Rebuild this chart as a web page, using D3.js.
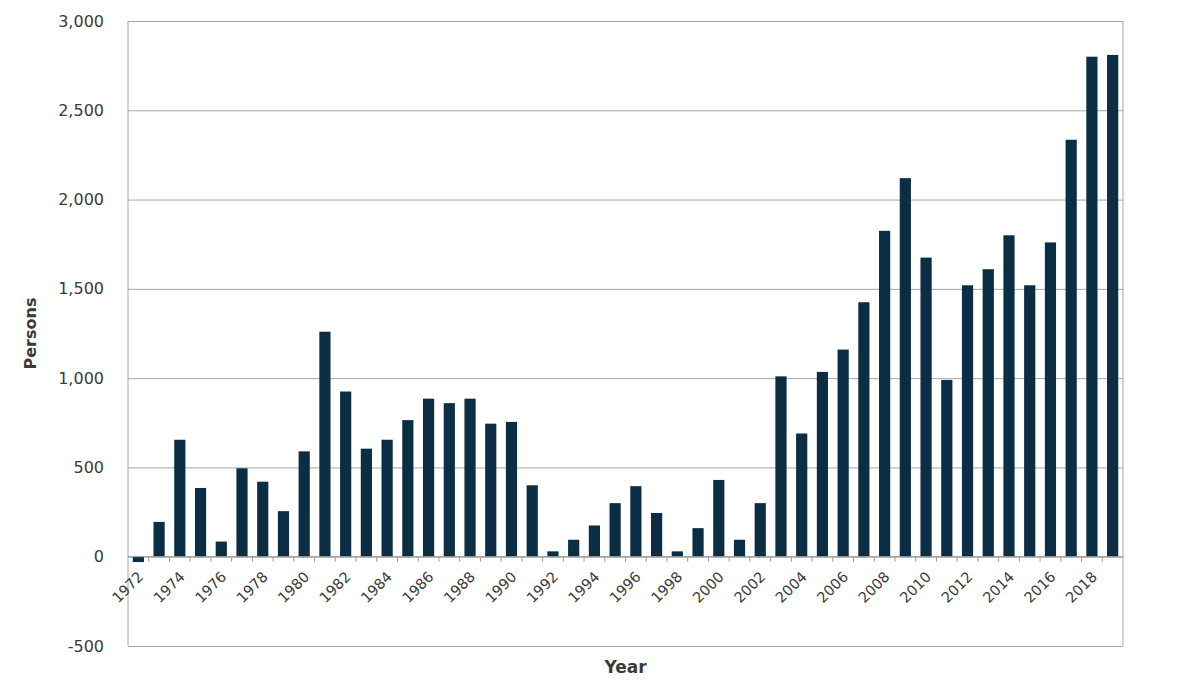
<!DOCTYPE html>
<html>
<head>
<meta charset="utf-8">
<script src="https://cdn.jsdelivr.net/npm/d3@7"></script>
<style>
  body { margin: 0; background: #fff; }
  text { font-family: "DejaVu Sans", Verdana, sans-serif; fill: #3a3a3a; }
</style>
</head>
<body>
<svg class="chart"></svg>
<script>
// Data
var years = d3.range(1972, 2020);
var persons = [
    -30, 195, 655, 385, 85, 495, 420, 255, 590, 1260,
    925, 605, 655, 765, 885, 860, 885, 745, 755, 400,
    30, 95, 175, 300, 395, 245, 30, 160, 430, 95,
    300, 1010, 690, 1035, 1160, 1425, 1825, 2120, 1675, 990,
    1520, 1610, 1800, 1520, 1760, 2335, 2800, 2810
];
var yTicks = [-500, 0, 500, 1000, 1500, 2000, 2500, 3000];
var labelYears = years.filter(function(y) { return (y - 1972) % 2 === 0; });

var width = 1200,
    height = 688,
    margin = { top: 21, right: 77, bottom: 42, left: 128 },
    innerW = width - margin.left - margin.right,
    innerH = height - margin.top - margin.bottom,
    barColor = '#0b2e45',
    gridColor = '#a6a6a6';

var data = years.map(function(y, i) { return { year: y, value: persons[i] }; });

var xScale = d3.scaleBand()
    .domain(years)
    .range([0, innerW])
    .paddingInner(0.46)
    .paddingOuter(0.23);

var yScale = d3.scaleLinear()
    .domain([-500, 3000])
    .range([innerH, 0]);

// hyphen instead of the unicode minus, as in the original
var fmt = function(d) { return d3.format(',')(d).replace('\u2212', '-'); };

var svg = d3.select('.chart')
    .attr('width', width)
    .attr('height', height);

var chart = svg.append('g')
    .attr('transform', 'translate(' + margin.left + ',' + margin.top + ')');

// gridlines
chart.append('g')
    .attr('class', 'grid')
    .call(d3.axisLeft(yScale).tickValues(yTicks).tickSize(-innerW).tickFormat(''))
    .call(function(g) { g.select('.domain').remove(); })
    .selectAll('line')
    .attr('stroke', gridColor);

// frame sides
chart.append('line')
    .attr('x1', 0).attr('x2', 0)
    .attr('y1', 0).attr('y2', innerH)
    .attr('stroke', gridColor);
chart.append('line')
    .attr('x1', innerW).attr('x2', innerW)
    .attr('y1', 0).attr('y2', innerH)
    .attr('stroke', gridColor);

// y axis labels
chart.append('g')
    .attr('class', 'axis axis-y')
    .call(d3.axisLeft(yScale).tickValues(yTicks).tickSize(0).tickPadding(24).tickFormat(fmt))
    .call(function(g) { g.select('.domain').remove(); })
    .selectAll('text')
    .style('font-size', '16px')
    .attr('fill', '#3a3a3a');

// bars
chart.selectAll('.bar')
    .data(data)
    .enter().append('rect')
    .attr('class', 'bar')
    .attr('x', function(d) { return xScale(d.year); })
    .attr('width', xScale.bandwidth())
    .attr('y', function(d) { return yScale(Math.max(0, d.value)); })
    .attr('height', function(d) { return Math.abs(yScale(d.value) - yScale(0)); })
    .attr('fill', barColor);

// zero line with ticks between categories
var zeroY = yScale(0);
chart.append('line')
    .attr('x1', 0).attr('x2', innerW)
    .attr('y1', zeroY).attr('y2', zeroY)
    .attr('stroke', '#999');

var step = xScale.step();
chart.selectAll('.cat-tick')
    .data(years.slice(1))
    .enter().append('line')
    .attr('class', 'cat-tick')
    .attr('x1', function(d) { return xScale(d) - xScale.paddingInner() * step / 2; })
    .attr('x2', function(d) { return xScale(d) - xScale.paddingInner() * step / 2; })
    .attr('y1', zeroY)
    .attr('y2', zeroY + 5)
    .attr('stroke', '#999');

// year labels
chart.selectAll('.year-label')
    .data(labelYears)
    .enter().append('text')
    .attr('class', 'year-label')
    .attr('transform', function(d) {
        var cx = xScale(d) + xScale.bandwidth() / 2 + 6;
        return 'translate(' + cx + ',' + (zeroY + 21) + ') rotate(-45)';
    })
    .attr('text-anchor', 'end')
    .style('font-size', '14.5px')
    .text(function(d) { return d; });

// axis titles
svg.append('text')
    .attr('transform', 'translate(36,' + (margin.top + yScale(1250)) + ') rotate(-90)')
    .attr('text-anchor', 'middle')
    .style('font-size', '16px')
    .style('font-weight', 'bold')
    .text('Persons');

svg.append('text')
    .attr('x', margin.left + innerW / 2)
    .attr('y', 673)
    .attr('text-anchor', 'middle')
    .style('font-size', '17px')
    .style('font-weight', 'bold')
    .text('Year');
</script>
</body>
</html>
